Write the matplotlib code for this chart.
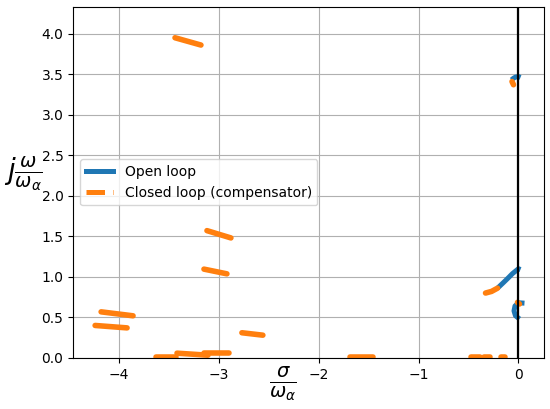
import matplotlib
matplotlib.use("Agg")
import matplotlib.pyplot as plt
from matplotlib.lines import Line2D

# Open-loop root locus branches (sigma/omega_a, omega/omega_a)
ol_x = [
    [-0.21, -0.15, -0.10, -0.06, -0.02, 0.00, 0.02],
    [0.01, -0.03, -0.045, -0.035, 0.00, 0.06],
    [-0.07, -0.05, -0.03, 0.00, 0.02],
]
ol_y = [
    [0.86, 0.93, 0.99, 1.04, 1.08, 1.10, 1.09],
    [0.48, 0.52, 0.58, 0.64, 0.68, 0.675],
    [3.43, 3.45, 3.465, 3.47, 3.46],
]

# Closed-loop (compensator) branches
cl_x = [
    [-3.44, -3.18],
    [-3.12, -2.88],
    [-3.15, -2.92],
    [-4.18, -3.86],
    [-4.24, -3.92],
    [-2.77, -2.56],
    [-3.63, -3.43],
    [-3.42, -3.11],
    [-3.15, -2.90],
    [-1.69, -1.46],
    [-0.48, -0.39],
    [-0.35, -0.29],
    [-0.18, -0.14],
    [-0.33, -0.27, -0.21],
    [-0.01, 0.01],
    [-0.05, -0.065],
]
cl_y = [
    [3.95, 3.86],
    [1.57, 1.48],
    [1.095, 1.037],
    [0.568, 0.519],
    [0.40, 0.37],
    [0.31, 0.28],
    [0.005, 0.005],
    [0.058, 0.033],
    [0.06, 0.06],
    [0.005, 0.005],
    [0.005, 0.005],
    [0.005, 0.005],
    [0.015, 0.015],
    [0.80, 0.82, 0.86],
    [0.685, 0.665],
    [3.37, 3.41],
]

blue = "#1f77b4"
orange = "#ff7f0e"

fig, ax = plt.subplots(figsize=(5.5, 4.09), dpi=100)
fig.subplots_adjust(left=0.133, right=0.989, top=0.983, bottom=0.125)

for xs, ys in zip(ol_x, ol_y):
    ax.plot(xs, ys, color=blue, lw=3.6, solid_capstyle="butt")
for xs, ys in zip(cl_x, cl_y):
    ax.plot(xs, ys, color=orange, lw=4.0, solid_capstyle="round")

ax.axvline(0, color="black", lw=1.6)
ax.set_xlim(-4.46, 0.255)
ax.set_ylim(0, 4.33)
ax.set_yticks([0, 0.5, 1.0, 1.5, 2.0, 2.5, 3.0, 3.5, 4.0])
ax.set_xticks([-4, -3, -2, -1, 0])
ax.grid(True)
ax.set_axisbelow(True)

handles = [
    Line2D([], [], color=blue, lw=3.6, label="Open loop"),
    Line2D([], [], color=orange, lw=3.6, ls="--", label="Closed loop (compensator)"),
]
ax.legend(handles=handles, loc="center left")

ax.set_xlabel(r"$\frac{\sigma}{\omega_\alpha}$", fontsize=20)
ax.xaxis.set_label_coords(0.446, -0.02)
ax.set_ylabel(r"$j\frac{\omega}{\omega_\alpha}$", fontsize=20, rotation=0)
ax.yaxis.set_label_coords(-0.106, 0.47)

fig.savefig("out.png", dpi=100)
